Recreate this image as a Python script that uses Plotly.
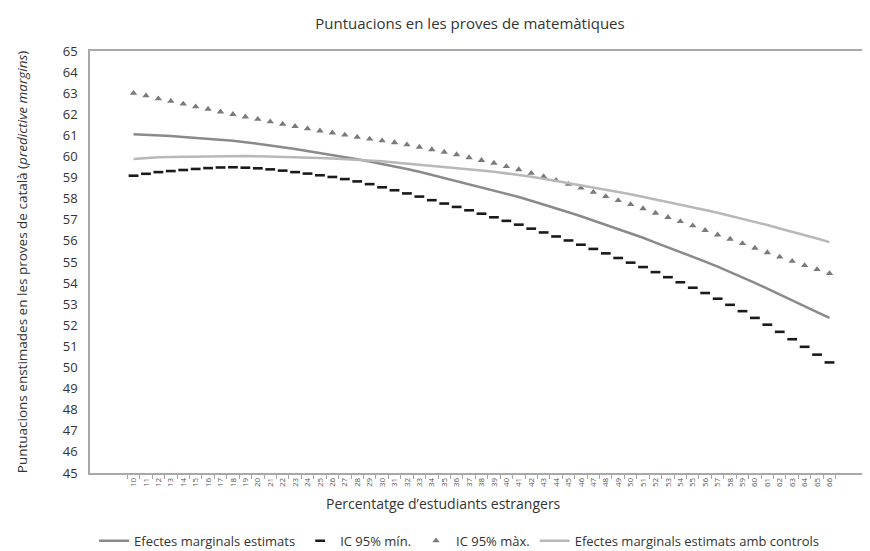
import plotly.graph_objects as go

# percentatge d'estudiants estrangers (categories de l'eix x)
pct = [str(i) for i in range(10, 67)]

# efectes marginals estimats
efectes = [61.05, 61.03, 61.00, 60.97, 60.92, 60.88, 60.85, 60.80, 60.75, 60.68,
           60.61, 60.52, 60.44, 60.35, 60.26, 60.17, 60.08, 59.98, 59.87, 59.76,
           59.65, 59.53, 59.41, 59.28, 59.13, 58.99, 58.85, 58.70, 58.56, 58.41,
           58.24, 58.08, 57.90, 57.73, 57.54, 57.36, 57.17, 56.97, 56.76, 56.56,
           56.35, 56.15, 55.92, 55.70, 55.48, 55.25, 55.02, 54.78, 54.53, 54.28,
           54.01, 53.74, 53.47, 53.19, 52.91, 52.63, 52.35]

# IC 95% min
ic_min = [59.09, 59.18, 59.26, 59.31, 59.36, 59.41, 59.45, 59.48, 59.49, 59.47,
          59.44, 59.39, 59.33, 59.26, 59.19, 59.11, 59.03, 58.93, 58.82, 58.69,
          58.54, 58.40, 58.25, 58.10, 57.93, 57.77, 57.61, 57.45, 57.29, 57.12,
          56.95, 56.77, 56.58, 56.40, 56.21, 56.02, 55.82, 55.62, 55.41, 55.19,
          54.97, 54.76, 54.52, 54.28, 54.04, 53.78, 53.53, 53.26, 52.97, 52.67,
          52.35, 52.03, 51.69, 51.34, 50.98, 50.61, 50.24]

# IC 95% max
ic_max = [63.00, 62.88, 62.74, 62.62, 62.49, 62.36, 62.25, 62.12, 62.00, 61.88,
          61.77, 61.65, 61.54, 61.43, 61.32, 61.22, 61.12, 61.02, 60.92, 60.83,
          60.75, 60.66, 60.56, 60.45, 60.33, 60.21, 60.09, 59.95, 59.82, 59.69,
          59.53, 59.38, 59.21, 59.05, 58.87, 58.69, 58.51, 58.31, 58.11, 57.92,
          57.73, 57.53, 57.32, 57.12, 56.92, 56.72, 56.50, 56.29, 56.09, 55.88,
          55.66, 55.45, 55.24, 55.04, 54.84, 54.65, 54.46]

# efectes marginals estimats amb controls
controls = [59.88, 59.93, 59.96, 59.98, 59.99, 60.00, 60.01, 60.02, 60.02, 60.02,
            60.01, 60.00, 59.99, 59.98, 59.96, 59.93, 59.91, 59.88, 59.84, 59.81,
            59.77, 59.72, 59.67, 59.62, 59.57, 59.51, 59.45, 59.39, 59.34, 59.28,
            59.21, 59.13, 59.04, 58.95, 58.85, 58.75, 58.65, 58.54, 58.43, 58.32,
            58.21, 58.09, 57.97, 57.85, 57.73, 57.60, 57.46, 57.33, 57.19, 57.04,
            56.90, 56.75, 56.59, 56.44, 56.27, 56.11, 55.94]

FONT = "Open Sans"
AXIS_GREY = "#a8a8a8"
TXT = "#333333"

fig = go.Figure()

fig.add_trace(go.Scatter(x=pct, y=efectes, mode="lines", name="Efectes marginals estimats",
                         line=dict(color="#8a8a8a", width=2.5)))
fig.add_trace(go.Scatter(x=pct, y=ic_min, mode="markers", name="IC 95% mín.",
                         marker=dict(symbol="line-ew", size=7, color="#1a1a1a",
                                     line=dict(color="#1a1a1a", width=2.6))))
fig.add_trace(go.Scatter(x=pct, y=ic_max, mode="markers", name="IC 95% màx.",
                         marker=dict(symbol="triangle-up", size=6.5, color="#7a7a7a")))
fig.add_trace(go.Scatter(x=pct, y=controls, mode="lines",
                         name="Efectes marginals estimats amb controls",
                         line=dict(color="#b8b8b8", width=2.5)))

fig.update_layout(
    width=870, height=551,
    margin=dict(l=82, r=3, t=43, b=75),
    paper_bgcolor="white", plot_bgcolor="white",
    font=dict(family=FONT, color=TXT, size=13),
    title=dict(text="Puntuacions en les proves de matemàtiques", x=462 / 870, xanchor="center",
               y=1 - 16 / 551, yanchor="middle", font=dict(size=15, color=TXT)),
    showlegend=True,
    legend=dict(orientation="h", x=(452 - 82) / 785, xanchor="center", y=-0.125, yanchor="top",
                font=dict(size=13, color=TXT), itemwidth=30,
                traceorder="normal"),
    xaxis=dict(type="category", tickangle=-90, tickfont=dict(size=8, color="#555555"),
               showline=True, linecolor=AXIS_GREY, linewidth=1.5, mirror=True,
               ticks="outside", ticklen=4, tickcolor=AXIS_GREY, tickson="boundaries",
               showgrid=False, zeroline=False),
    yaxis=dict(range=[45, 65], dtick=1, tickfont=dict(size=13, color=TXT),
               ticklabelstandoff=8,
               showline=True, linecolor=AXIS_GREY, linewidth=1.5, mirror=True,
               ticks="", showgrid=False, zeroline=False),
    annotations=[
        dict(text="Percentatge d’estudiants estrangers", xref="paper", yref="paper",
             x=(436 - 82) / 785, y=-(507 - 476) / 433, xanchor="center", yanchor="middle",
             showarrow=False, font=dict(size=14, color=TXT)),
        dict(text="Puntuacions enstimades en les proves de català (<i>predictive margins</i>)",
             xref="paper", yref="paper", x=-(82 - 14) / 785, y=0.5, textangle=-90,
             xanchor="center", yanchor="middle", showarrow=False,
             font=dict(size=13.5, color=TXT)),
    ],
)

fig.write_html("out.html")
